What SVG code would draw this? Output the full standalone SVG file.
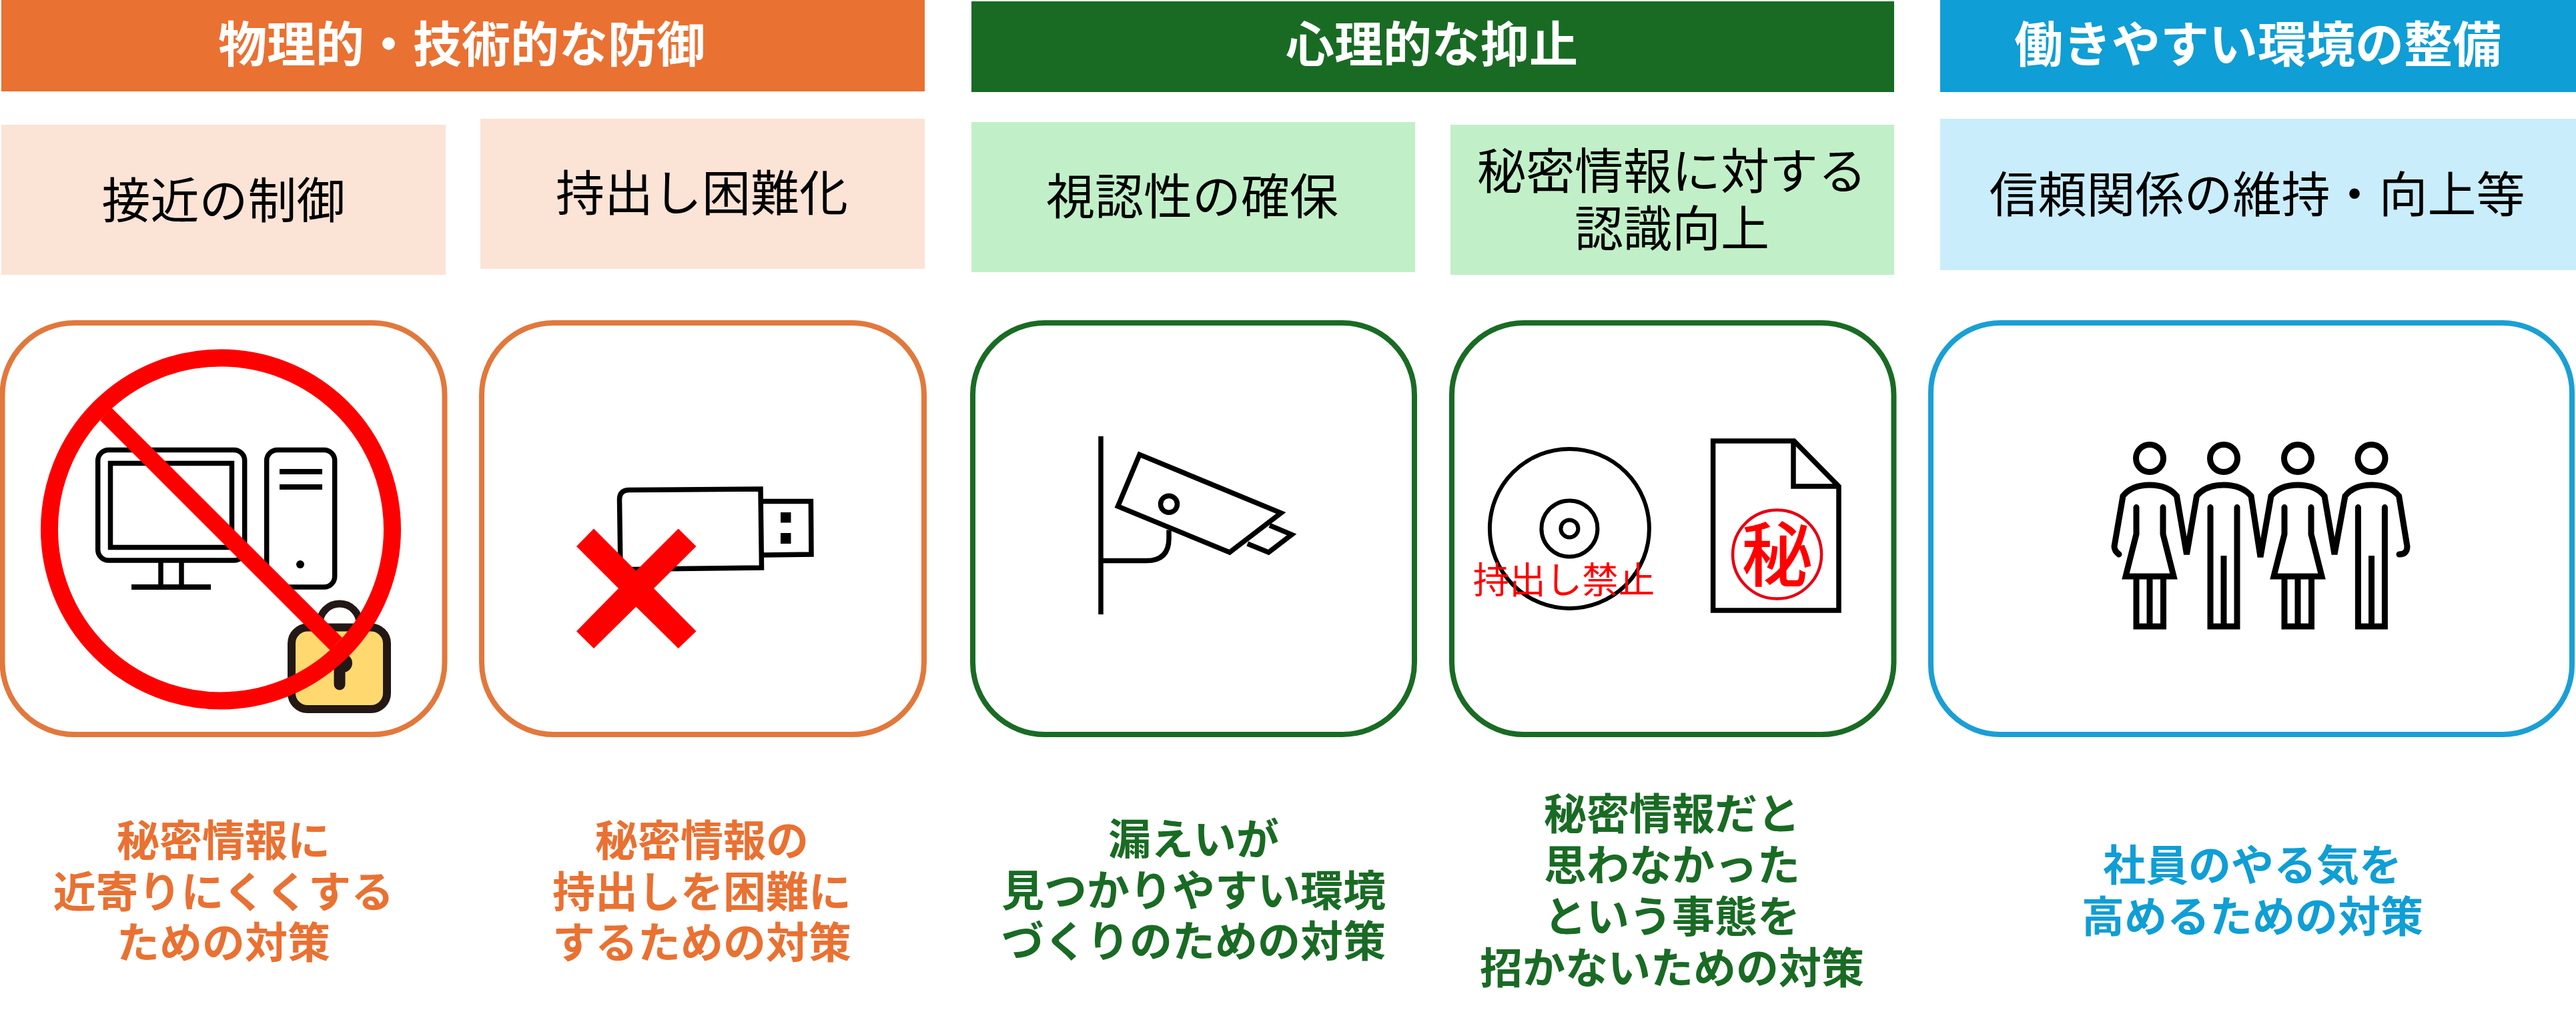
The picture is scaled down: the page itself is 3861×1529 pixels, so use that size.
<svg xmlns="http://www.w3.org/2000/svg" width="3861" height="1529" viewBox="0 0 3861 1529">
<defs>
<style>
text{font-family:"Noto Sans CJK JP","Noto Sans",sans-serif;text-anchor:middle}
.h{font-size:73px;font-weight:700;fill:#fff}
.s{font-size:73px;font-weight:400;fill:#000}
.d{font-size:64px;font-weight:700}
.o{fill:#E97132}.g{fill:#196B24}.b{fill:#0F9ED5}
.lo{fill:#FBE3D6}.lg{fill:#C1F0C8}.lb{fill:#CAEDFB}
.card{fill:#fff;stroke-width:8}
.so{stroke:#E2783C}.sg{stroke:#196B24}.sb{stroke:#1A9FD5}
.k{fill:none;stroke:#000;stroke-width:7.5;stroke-linejoin:miter}
.p{fill:none;stroke:#000;stroke-width:9}
.red{fill:#f00}
</style>
</defs>
<rect width="3861" height="1529" fill="#fff"/>

<g id="header-physical"><rect class="o" x="2" y="0" width="1384" height="137"/><text class="h" x="692" y="93">物理的・技術的な防御</text></g>
<g id="header-psych"><rect class="g" x="1456" y="2" width="1383" height="136"/><text class="h" x="2146" y="93">心理的な抑止</text></g>
<g id="header-env"><rect class="b" x="2908" y="0" width="953" height="138"/><text class="h" x="3384" y="93">働きやすい環境の整備</text></g>

<g id="sub-access"><rect class="lo" x="2" y="187" width="666" height="225"/><text class="s" x="335" y="327">接近の制御</text></g>
<g id="sub-carry"><rect class="lo" x="720" y="178" width="666" height="225"/><text class="s" x="1052" y="316">持出し困難化</text></g>
<g id="sub-visibility"><rect class="lg" x="1456" y="183" width="665" height="225"/><text class="s" x="1787" y="321">視認性の確保</text></g>
<g id="sub-awareness"><rect class="lg" x="2174" y="187" width="665" height="225"/><text class="s" x="2506" y="283">秘密情報に対する</text><text class="s" x="2506" y="369">認識向上</text></g>
<g id="sub-trust"><rect class="lb" x="2908" y="178" width="953" height="227"/><text class="s" x="3383" y="318">信頼関係の維持・向上等</text></g>

<g id="card-access">
<rect class="card so" x="3.5" y="484" width="663" height="617" rx="108" ry="108"/>
<rect class="k" x="146.7" y="674.5" width="220" height="165.5" rx="16"/>
<rect class="k" x="165.5" y="694.5" width="182" height="126"/>
<path class="k" d="M241 843V880M272 843V880"/>
<rect x="197" y="876" width="119" height="8"/>
<rect class="k" x="399.7" y="674.5" width="102" height="205.500" rx="16"/>
<rect x="419" y="703" width="64" height="8"/><rect x="419" y="726" width="64" height="8"/>
<circle cx="450" cy="846" r="6"/>
<path d="M479 940V935A30 30 0 0 1 539 935V940" fill="none" stroke="#231815" stroke-width="11"/>
<rect x="437" y="940.500" width="143" height="122.500" rx="24" fill="#FFD970" stroke="#231815" stroke-width="12"/>
<path d="M509 990V1026" fill="none" stroke="#231815" stroke-width="17" stroke-linecap="round"/>
<circle cx="514" cy="994" r="14" fill="#231815"/>
<circle cx="331" cy="793.500" r="257" fill="none" stroke="#f00" stroke-width="26"/>
<polygon class="red" points="167,611 150,630 495,975 513,956"/>
</g>

<g id="card-carry">
<rect class="card so" x="722" y="484" width="663" height="617" rx="108" ry="108"/>
<path class="k" d="M943 734.500L1140 733L1141.500 851L930 853.700L928.500 749Q928.500 734.600 943 734.500Z"/>
<path class="k" d="M1143.500 751.600H1215.400L1216 831L1143.500 832"/>
<rect x="1170" y="768" width="15.500" height="15.500"/><rect x="1170" y="799" width="15.500" height="16"/>
<polygon class="red" points="864,819 890,792.400 953.300,855.700 1016.700,792.400 1043.500,819 980,882 1043.500,946.300 1016.700,972 953.300,909.600 890,972 864,946.300 927,882"/>
</g>

<g id="card-visibility">
<rect class="card sg" x="1458" y="484" width="662" height="617" rx="108" ry="108"/>
<path class="k" d="M1650 654V921"/>
<polygon class="k" points="1708,681.400 1920,769 1843,828 1675.500,759"/>
<path class="k" d="M1903 787.500L1936 801.400L1901.400 828L1869.700 815"/>
<circle class="k" cx="1752" cy="755.700" r="12.500"/>
<path class="k" d="M1752 794.500V807Q1752 840.600 1718 840.600H1650"/>
</g>

<g id="card-awareness">
<rect class="card sg" x="2176" y="484" width="662.500" height="617" rx="108" ry="108"/>
<circle cx="2352.400" cy="792.400" r="119.500" fill="none" stroke="#000" stroke-width="6"/>
<circle cx="2352.400" cy="792.400" r="42" fill="none" stroke="#000" stroke-width="6"/>
<circle cx="2352.400" cy="792.400" r="13" fill="none" stroke="#000" stroke-width="6"/>
<text x="2344" y="889" font-size="54.500" fill="#f00">持出し禁止</text>
<path class="k" d="M2567.600 661H2689L2756 729V915H2567.600Z"/>
<path class="k" d="M2688 661V729H2756"/>
<circle cx="2663.600" cy="831" r="66.500" fill="none" stroke="#e60012" stroke-width="4.500"/>
<text x="2663.600" y="870" font-size="106" font-weight="500" fill="#f00">秘</text>
</g>

<g id="card-trust">
<rect class="card sb" x="2894" y="484" width="961" height="617" rx="104" ry="104"/>
<circle class="p" cx="3222" cy="687" r="20.500"/><circle class="p" cx="3333" cy="687" r="20.500"/><circle class="p" cx="3444" cy="687" r="20.500"/><circle class="p" cx="3554.500" cy="687" r="20.500"/>
<path class="p" stroke-linecap="round" d="M3176 831Q3169 826 3169 819L3182 743.500Q3195 727 3222 727Q3249 727 3262.500 743.500L3277.500 831L3292.500 743.500Q3306 727 3333 727Q3360 727 3374 743.500L3388 835L3404 743.500Q3417 727 3444 727Q3471 727 3484 743.500L3499 831L3515 743.500Q3528 727 3554.500 727Q3582 727 3595.600 743.500L3608 819Q3608 831 3596 831"/>
<path class="p" stroke-linecap="round" d="M3202 760.600V800.600L3186 864H3258L3242 800.600V760.600"/>
<path class="p" stroke-linecap="round" d="M3424 760.600V800.600L3408 864H3480L3464 800.600V760.600"/>
<path class="p" d="M3202 864V939H3242.500V864M3222 864V939M3424 864V939H3464.500V864M3444 864V939"/>
<path class="p" stroke-linecap="round" d="M3313 760.600V939H3353V760.600M3534.400 760.600V939H3574.400V760.600"/>
<path class="p" d="M3333 833V939M3554.500 833V939"/>
</g>

<g id="desc-access"><text class="d o" x="335" y="1283">秘密情報に</text><text class="d o" x="335" y="1360">近寄りにくくする</text><text class="d o" x="335" y="1436">ための対策</text></g>
<g id="desc-carry"><text class="d o" x="1052" y="1283">秘密情報の</text><text class="d o" x="1052" y="1360">持出しを困難に</text><text class="d o" x="1052" y="1436">するための対策</text></g>
<g id="desc-visibility"><text class="d g" x="1789" y="1281">漏えいが</text><text class="d g" x="1789" y="1358">見つかりやすい環境</text><text class="d g" x="1789" y="1434">づくりのための対策</text></g>
<g id="desc-awareness"><text class="d g" x="2506" y="1243">秘密情報だと</text><text class="d g" x="2506" y="1320">思わなかった</text><text class="d g" x="2506" y="1397">という事態を</text><text class="d g" x="2506" y="1474">招かないための対策</text></g>
<g id="desc-trust"><text class="d b" x="3376" y="1320">社員のやる気を</text><text class="d b" x="3376" y="1397">高めるための対策</text></g>
</svg>
